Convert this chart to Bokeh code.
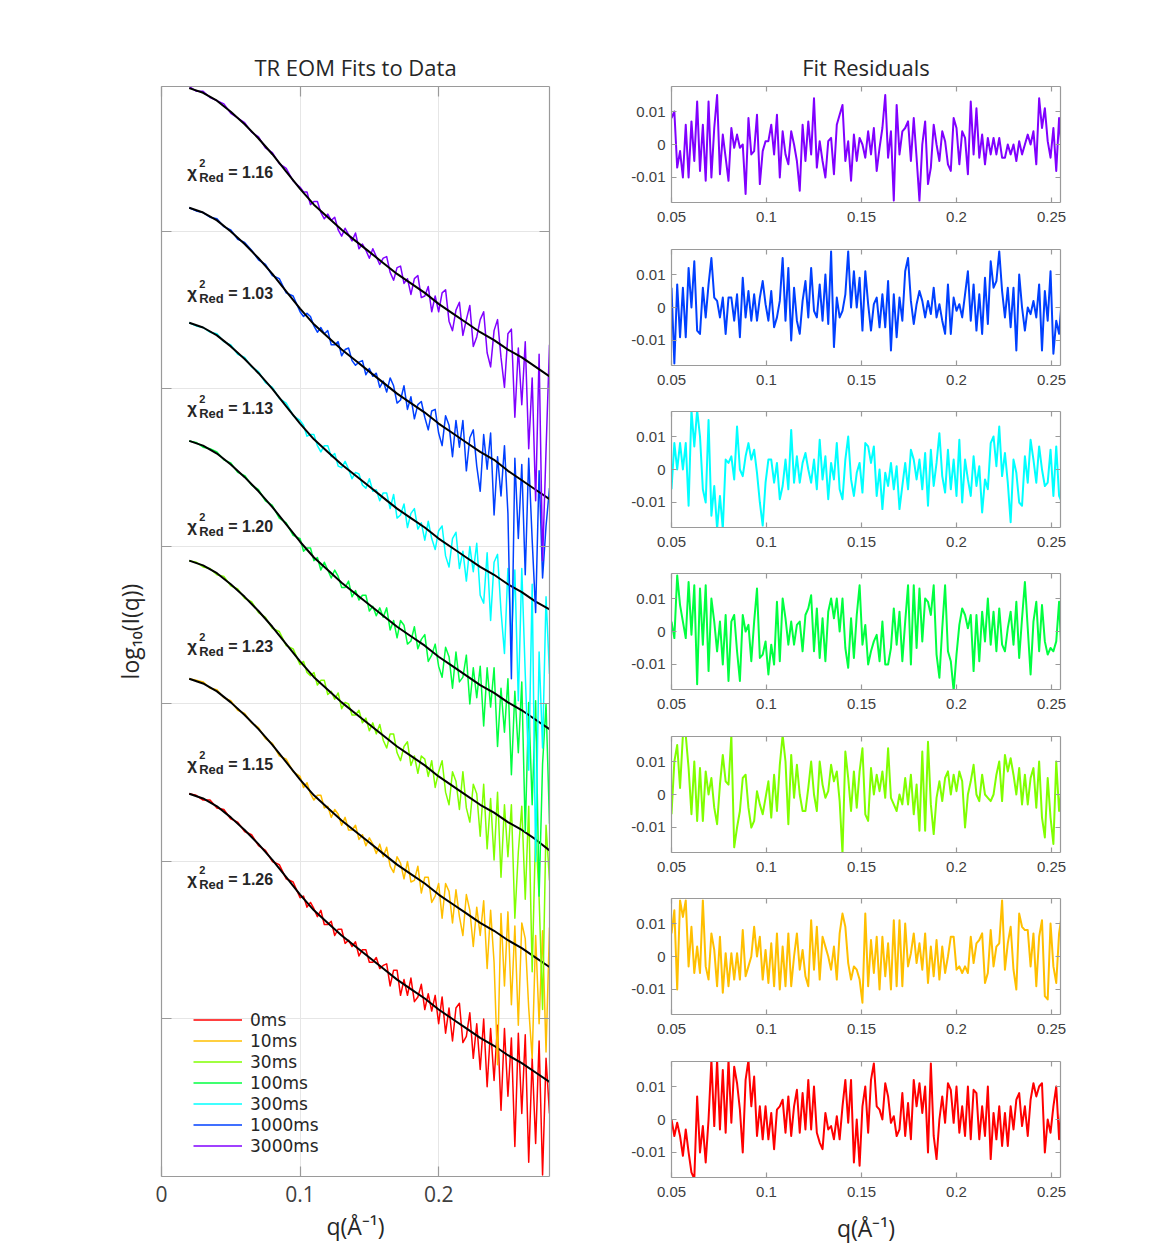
import numpy as np
from bokeh.plotting import figure
from bokeh.models import (ColumnDataSource, Range1d, FixedTicker, LinearAxis, Legend,
                          LegendItem, CustomJSTickFormatter)
from bokeh.layouts import row, column
from bokeh.core.properties import value
from bokeh.embed import file_html
from bokeh.resources import INLINE

# ---------------- data ----------------
series_labels = ["0ms", "10ms", "30ms", "100ms", "300ms", "1000ms", "3000ms"]
series_colors = ["#ff0000", "#ffbf00", "#80ff00", "#00ff40", "#00ffff", "#0040ff", "#8000ff"]
chi_red = [1.26, 1.15, 1.23, 1.20, 1.13, 1.03, 1.16]

left_x_ticks = [0, 0.1, 0.2]
left_x_labels = ["0", "0.1", "0.2"]
left_y_ticks = [1, 2, 3, 4, 5, 6]
res_x_ticks = [0.05, 0.1, 0.15, 0.2, 0.25]
res_x_labels = ["0.05", "0.1", "0.15", "0.2", "0.25"]
res_y_ticks = [-10, 0, 10]            # residuals are in units of 1e-3
res_y_labels = ["-0.01", "0", "0.01"]

# q sampling grids (measurement grid of the curves)
q_fit = [0.02, 0.03, 0.04, 0.05, 0.06, 0.07, 0.08, 0.09, 0.10, 0.11, 0.12, 0.13, 0.14,
         0.15, 0.16, 0.17, 0.18, 0.19, 0.20, 0.21, 0.22, 0.23, 0.24, 0.25, 0.26, 0.27, 0.28]
q_data = list(np.round(np.r_[0.02 + 0.005 * np.arange(17), 0.1025 + 0.0025 * np.arange(72)], 4))
q_res = list(np.round(0.05 + 0.0015 * np.arange(138), 4))

fit_0ms = [2.43, 2.40, 2.35, 2.28, 2.20, 2.11, 2.01, 1.90, 1.79, 1.69, 1.61, 1.53, 1.46, 1.39, 1.32, 1.25, 1.19, 1.13, 1.06, 1.00, 0.94, 0.88, 0.83, 0.77, 0.72, 0.66, 0.60]
fit_10ms = [3.16, 3.13, 3.08, 3.01, 2.93, 2.84, 2.74, 2.63, 2.52, 2.42, 2.34, 2.26, 2.19, 2.12, 2.05, 1.98, 1.92, 1.86, 1.79, 1.73, 1.67, 1.61, 1.56, 1.50, 1.45, 1.39, 1.33]
fit_30ms = [3.91, 3.88, 3.83, 3.76, 3.68, 3.59, 3.49, 3.38, 3.27, 3.17, 3.09, 3.01, 2.94, 2.87, 2.80, 2.73, 2.67, 2.61, 2.54, 2.48, 2.42, 2.36, 2.31, 2.25, 2.20, 2.14, 2.07]
fit_100ms = [4.67, 4.64, 4.59, 4.52, 4.44, 4.35, 4.25, 4.14, 4.03, 3.93, 3.85, 3.77, 3.70, 3.63, 3.56, 3.49, 3.43, 3.37, 3.30, 3.24, 3.18, 3.12, 3.07, 3.01, 2.96, 2.90, 2.84]
fit_300ms = [5.42, 5.39, 5.34, 5.27, 5.19, 5.10, 5.00, 4.89, 4.78, 4.68, 4.60, 4.52, 4.45, 4.38, 4.31, 4.24, 4.18, 4.12, 4.05, 3.99, 3.93, 3.87, 3.82, 3.76, 3.71, 3.65, 3.60]
fit_1000ms = [6.15, 6.12, 6.07, 6.00, 5.92, 5.83, 5.73, 5.62, 5.51, 5.41, 5.33, 5.25, 5.18, 5.11, 5.04, 4.97, 4.91, 4.85, 4.78, 4.72, 4.66, 4.60, 4.55, 4.48, 4.42, 4.36, 4.30]
fit_3000ms = [6.91, 6.88, 6.83, 6.76, 6.68, 6.59, 6.49, 6.38, 6.27, 6.17, 6.09, 6.01, 5.94, 5.87, 5.80, 5.73, 5.67, 5.61, 5.54, 5.48, 5.42, 5.36, 5.31, 5.25, 5.20, 5.14, 5.08]

data_0ms = [2.43, 2.42, 2.39, 2.39, 2.34, 2.33, 2.27, 2.25, 2.19, 2.17, 2.10, 2.07, 2.00, 1.98, 1.89, 1.87, 1.77,
            1.78, 1.71, 1.74, 1.70, 1.65, 1.69, 1.60, 1.60, 1.62, 1.53, 1.57, 1.57, 1.48, 1.50, 1.46, 1.49, 1.40, 1.44, 1.44, 1.36, 1.36, 1.39, 1.32, 1.34,
            1.35, 1.21, 1.31, 1.31, 1.15, 1.25, 1.15, 1.26, 1.11, 1.14, 1.22, 1.06, 1.16, 1.05, 1.15, 0.97,
            1.14, 0.91, 1.07, 0.86, 1.07, 1.10, 0.85, 0.89, 1.04, 0.75, 0.97, 0.68,
            1.00, 0.57, 0.94, 0.61, 0.96, 0.42, 0.94, 0.51,
            0.88, 0.19, 0.91, 0.40, 0.90, 0.09, 0.75, 0.21, 0.86, 0.01, 0.75, 0.40]
data_10ms = [3.16, 3.15, 3.14, 3.10, 3.09, 3.04, 3.02, 2.96, 2.94, 2.88, 2.85, 2.78, 2.75, 2.67, 2.65, 2.57, 2.54,
             2.47, 2.50, 2.43, 2.39, 2.42, 2.42, 2.34, 2.35, 2.28, 2.33, 2.30, 2.23, 2.28, 2.20, 2.20, 2.23, 2.14, 2.17, 2.10, 2.15, 2.11, 2.05, 2.11, 2.03,
             2.09, 1.97, 1.93, 2.03, 1.99, 1.89, 2.00, 1.87, 1.88, 1.97, 1.80, 1.90, 1.90, 1.74, 1.78, 1.86,
             1.64, 1.86, 1.81, 1.61, 1.82, 1.65, 1.53, 1.79, 1.69, 1.46, 1.71, 1.53,
             1.75, 1.32, 1.69, 1.36, 0.71, 1.67, 1.21, 1.68,
             1.09, 1.59, 0.96, 1.61, 1.51, 1.07, 0.75, 1.53, 0.97, 1.56, 0.79, 1.58]
data_30ms = [3.91, 3.90, 3.87, 3.86, 3.82, 3.81, 3.75, 3.73, 3.67, 3.65, 3.58, 3.55, 3.48, 3.46, 3.37, 3.35, 3.25,
             3.27, 3.20, 3.18, 3.20, 3.12, 3.15, 3.15, 3.06, 3.08, 3.03, 3.07, 2.97, 3.01, 3.00, 2.93, 2.93, 2.96, 2.88, 2.91, 2.83, 2.88, 2.81, 2.87, 2.77,
             2.72, 2.81, 2.81, 2.69, 2.64, 2.73, 2.76, 2.61, 2.67, 2.56, 2.67, 2.65, 2.54, 2.64, 2.47, 2.57,
             2.64, 2.44, 2.36, 2.57, 2.51, 2.33, 2.57, 2.34, 2.25, 2.49, 2.43, 2.16,
             2.49, 2.08, 2.40, 2.01, 2.44, 1.90, 2.36, 2.03,
             2.36, 1.64, 2.06, 2.35, 1.76, 2.35, 1.30, 2.20, 1.77, 1.06, 2.23, 1.88]
data_100ms = [4.67, 4.66, 4.63, 4.62, 4.60, 4.55, 4.53, 4.47, 4.45, 4.39, 4.36, 4.29, 4.26, 4.18, 4.15, 4.07, 4.05,
              3.97, 3.99, 3.99, 3.91, 3.93, 3.85, 3.90, 3.85, 3.80, 3.85, 3.81, 3.74, 3.74, 3.78, 3.68, 3.72, 3.66, 3.69, 3.69, 3.59, 3.62, 3.56, 3.61, 3.55,
              3.61, 3.47, 3.53, 3.42, 3.53, 3.50, 3.38, 3.40, 3.49, 3.35, 3.41, 3.44, 3.27, 3.31, 3.38, 3.24,
              3.17, 3.36, 3.30, 3.10, 3.33, 3.14, 3.17, 3.31, 3.00, 3.23, 3.04, 3.24,
              2.86, 3.23, 2.98, 3.23, 2.73, 3.10, 2.82, 3.16,
              2.55, 3.08, 2.69, 3.14, 2.19, 3.01, 2.36, 3.02, 1.78, 2.62, 3.00, 2.24]
data_300ms = [5.42, 5.40, 5.39, 5.36, 5.35, 5.30, 5.28, 5.22, 5.20, 5.14, 5.11, 5.04, 5.01, 4.94, 4.91, 4.83, 4.80,
              4.77, 4.70, 4.71, 4.71, 4.64, 4.60, 4.64, 4.64, 4.57, 4.59, 4.51, 4.50, 4.54, 4.49, 4.43, 4.47, 4.46, 4.39, 4.37, 4.43, 4.35, 4.36, 4.29, 4.34,
              4.34, 4.24, 4.33, 4.18, 4.20, 4.27, 4.12, 4.21, 4.24, 4.11, 4.15, 4.04, 4.16, 4.05, 3.98, 4.10,
              4.13, 3.94, 3.87, 4.05, 4.09, 3.86, 3.97, 3.78, 4.00, 3.84, 4.02, 3.69,
              3.64, 3.96, 3.53, 3.90, 3.95, 3.59, 3.32, 3.86,
              3.40, 3.85, 3.02, 3.86, 3.19, 2.58, 3.76, 2.00, 3.33, 2.72, 3.68, 3.19]
data_1000ms = [6.15, 6.13, 6.12, 6.09, 6.08, 6.03, 6.01, 5.95, 5.93, 5.88, 5.82, 5.79, 5.72, 5.70, 5.61, 5.59, 5.49,
               5.46, 5.48, 5.46, 5.40, 5.36, 5.39, 5.35, 5.37, 5.28, 5.28, 5.30, 5.21, 5.25, 5.26, 5.18, 5.15, 5.17, 5.18, 5.09, 5.13, 5.08, 5.10, 5.01, 5.05,
               4.98, 5.07, 5.02, 4.91, 4.93, 5.02, 4.87, 4.95, 4.81, 4.90, 4.92, 4.82, 4.74, 4.86, 4.87, 4.72,
               4.64, 4.83, 4.77, 4.57, 4.80, 4.63, 4.80, 4.48, 4.69, 4.74, 4.51, 4.35,
               4.71, 4.49, 4.72, 4.20, 4.57, 4.32, 4.64, 4.21,
               3.16, 4.56, 4.05, 4.52, 3.82, 4.56, 4.04, 3.58, 4.48, 3.80, 4.13, 4.37]
data_3000ms = [6.92, 6.89, 6.89, 6.85, 6.83, 6.81, 6.75, 6.72, 6.69, 6.63, 6.60, 6.53, 6.50, 6.43, 6.40, 6.32, 6.28,
               6.25, 6.25, 6.17, 6.19, 6.19, 6.12, 6.08, 6.11, 6.07, 6.09, 6.01, 5.97, 6.02, 5.98, 5.94, 5.99, 5.89, 5.92, 5.88, 5.83, 5.89, 5.84, 5.79, 5.83,
               5.84, 5.74, 5.69, 5.77, 5.78, 5.67, 5.70, 5.60, 5.70, 5.72, 5.58, 5.59, 5.65, 5.49, 5.59, 5.49,
               5.61, 5.63, 5.43, 5.37, 5.50, 5.55, 5.34, 5.44, 5.53, 5.27, 5.33, 5.44,
               5.49, 5.23, 5.14, 5.37, 5.44, 5.20, 5.01, 5.35,
               5.38, 4.82, 5.26, 4.90, 5.30, 4.62, 5.07, 4.29, 5.22, 3.91, 4.61, 5.28]

# residuals in units of 1e-3
resid_0ms = [0, -5, -1, -5, -11, -3, -10, -16, -18, 7,
             -10, -2, -13, 0, 18, -2, 18, -3, 15, -4,
             18, -1, 16, 11, 3, -10, 12, 18, 4, 13,
             -5, 4, -6, 4, -6, 2, -9, 3, 4, 6,
             -4, 7, -5, 4, 9, -4, 8, -3, 12, -3,
             10, -4, -7, -9, 2, -3, -2, -6, 1, -6,
             4, 12, -1, 12, -13, 0, -14, 4, 10, -4,
             12, 17, 4, 3, 0, 11, 7, -1, 1, -5,
             -3, 8, -5, 5, -6, 12, 4, 11, 2, 10,
             -10, 17, -5, -12, 0, 7, -1, 11, 9, -1,
             10, -4, 4, -5, 10, -6, 9, 8, -6, 4,
             -5, 10, -12, 2, -6, 4, -8, 2, -8, 4,
             -3, 6, 8, -2, 4, -5, 6, 11, 7, 10,
             11, -10, 0, -4, 4, 10, -6, 6]
resid_10ms = [7, 14, -10, 17, 12, 17, -3, 9, -5, 3,
              -5, 17, -3, -7, 7, 2, -9, 6, -11, 1,
              -9, 1, -7, 1, -7, 8, -6, -3, 0, 9,
              0, 6, -7, 2, -8, 4, -9, 7, -10, 3,
              -9, 7, -9, 0, 7, -4, 2, -6, -9, 11,
              -4, 9, -7, 6, 3, 0, -4, 3, -7, 7,
              13, 9, -2, -7, -3, -4, -7, -14, 13, -9,
              5, -5, 6, -10, 6, -6, 4, -10, 11, -9,
              11, -9, 10, -3, 1, 7, -2, 4, -4, 7,
              -8, 3, -6, 5, -7, 3, -5, 0, 6, 6,
              -4, -3, -5, -3, -5, 6, -2, 4, 5, 7,
              -8, -5, 8, -3, 3, 4, 17, -4, 4, 9,
              -4, -10, 13, 9, 8, 8, -3, 7, -9, 6,
              11, -12, -13, 10, -3, -8, 7, 13]
resid_30ms = [-6, 10, 15, 2, 18, 18, 8, -6, 10, -8,
              8, -8, 7, 0, 5, -4, -9, 3, 12, 4,
              3, 18, -16, -10, -5, 5, 6, -4, -10, -8,
              1, -3, -6, -1, 4, -7, 6, -5, 9, 18,
              10, -9, 12, -1, 9, 0, -5, -5, 2, 10,
              0, -5, 10, 3, -1, 1, 9, 4, 7, -2,
              -18, 13, 5, -5, 7, -4, 7, 14, -6, -8,
              8, 0, 6, 1, 7, -1, 14, -1, -3, -5,
              0, -3, 5, -3, 6, -6, 3, -11, 13, -11,
              16, -3, -12, -1, 4, -2, 5, 7, 0, 6,
              1, 7, 4, -10, 0, 4, 9, 0, -2, 6,
              0, -1, -2, 0, 6, 10, -2, 12, 7, 11,
              6, 0, 8, -3, 6, -3, 5, 8, -4, 10,
              -7, -13, 5, -7, -15, 10, -5, 3]
resid_100ms = [3, -2, 17, 8, 3, -2, 15, -1, 14, -16,
               13, -4, 14, -12, 10, 3, -6, 3, -10, 5,
               -15, 3, 5, -6, -15, 5, 0, 2, -9, 3,
               13, -8, -7, -3, -13, -4, -10, 9, -9, 10,
               4, -4, 3, -4, 2, 3, -6, 5, 7, 11,
               -6, 7, -8, 4, -9, 6, 10, 4, 10, 0,
               10, -5, -11, 4, -8, 5, 14, -4, 2, -10,
               -6, -3, -1, -9, 3, -10, -10, -5, 7, -4,
               6, -9, 3, 14, -10, 14, -5, 13, -3, 10,
               9, 5, 14, -7, -14, 1, 14, -6, -9, -18,
               -7, 2, 7, 5, 1, 5, -12, 5, -9, 6,
               -3, 10, -4, 6, -6, 7, -4, -6, 1, 6,
               -4, 9, -8, 4, 15, 1, -13, 3, 9, -6,
               8, -3, -7, -5, -6, -3, 9, -10]
resid_300ms = [-6, 8, 0, 8, 0, 8, -11, 18, 7, 18,
               10, -6, -10, 15, -14, -5, -18, -8, -18, 3,
               2, 4, -3, 13, 0, -2, 4, 8, 3, 6,
               -1, -10, -17, -4, 3, 3, -4, 2, -9, -5,
               3, -6, 12, -4, 4, -4, 2, 5, 0, -4,
               3, -6, 9, -3, 4, -9, 2, -3, 8, -6,
               -9, 3, 10, -3, -8, -1, 2, -7, 8, 7,
               2, 7, -8, 0, -12, -1, -5, 2, -6, 1,
               -12, -5, 2, -6, 6, 3, -3, 3, -6, 5,
               -11, 6, -5, 2, 11, -2, -7, 6, -6, 3,
               -8, 9, -10, 3, -3, -8, 4, -5, 1, -13,
               -3, -6, 8, 10, 1, 13, -2, 5, -4, -16,
               3, -1, -10, -11, 4, -4, 9, 3, -4, 7,
               0, -5, -4, 6, -8, 7, -8, -10]
resid_1000ms = [6, -17, 7, -9, 6, -9, 12, 0, 14, -7,
                -8, 6, -3, 7, 15, 3, 2, -3, 3, -8,
                3, 3, -4, 4, -9, 9, -3, 5, -4, 4,
                -4, 3, 8, 1, -4, 5, -6, -3, 2, 15,
                -4, 12, -10, 6, -4, -8, 2, 8, -3, 12,
                -1, -3, 7, -4, 10, -5, 17, -12, 3, -3,
                -1, 4, 17, 0, 11, 0, 9, -7, 11, 1,
                -7, 1, 3, -6, 4, -6, 8, -13, 4, -9,
                3, -4, 11, 15, 2, -5, 1, 5, 2, -3,
                2, -2, 6, -3, 1, -4, -8, 7, -8, 3,
                -1, 1, -3, 4, 11, -4, 7, -7, 4, -8,
                9, -5, 14, 6, 8, 17, 5, -3, 6, -6,
                6, -13, 10, 0, -7, 0, -2, 2, -3, 7,
                -13, 5, -4, 11, -14, -4, -8, 3]
resid_3000ms = [8, 10, -7, -2, -10, 6, -10, 7, -5, 13,
                -8, 6, -11, 13, -10, 5, 15, -9, 3, -4,
                -11, 5, -1, 3, -1, 0, -15, 8, -3, -2,
                9, -12, -2, 1, 1, 6, -3, 9, -10, 4,
                -3, -6, 4, 0, -5, -14, 6, -5, 7, -3,
                14, -7, 1, -5, -10, 1, 2, -9, 6, 9,
                12, -5, 1, -11, 3, -5, 2, 0, -4, 4,
                -3, 5, -8, -1, 5, 15, -4, 4, -17, 12,
                -3, 4, 5, 7, -5, 8, -4, -17, 0, 7,
                -12, -7, 6, 0, -5, 4, 1, -6, -8, 8,
                5, -6, 4, 2, -9, 13, -3, 11, -4, 3,
                -6, 2, -3, 2, -3, 2, -4, -4, 0, -3,
                0, -5, 1, -3, 0, 3, 0, 4, -6, 14,
                5, 11, 1, -4, 5, -8, 8, -3]

fits = [fit_0ms, fit_10ms, fit_30ms, fit_100ms, fit_300ms, fit_1000ms, fit_3000ms]
datas = [data_0ms, data_10ms, data_30ms, data_100ms, data_300ms, data_1000ms, data_3000ms]
resids = [resid_0ms, resid_10ms, resid_30ms, resid_100ms, resid_300ms, resid_1000ms, resid_3000ms]

# ---------------- styling ----------------
FONT = "Open Sans"
TICKFONT = "Liberation Sans"
LEGENDFONT = "DejaVu Sans"
TXT = "#262626"
AX = "#9a9a9a"
EMPTY = CustomJSTickFormatter(code="return ''")


def style_axis(ax, ticks, tick_in, labels=None, font=FONT, size="18px", standoff=6):
    ax.ticker = FixedTicker(ticks=ticks)
    ax.axis_line_color = AX
    ax.axis_line_width = 1.2
    ax.major_tick_line_color = AX
    ax.major_tick_line_width = 1.2
    ax.major_tick_in = tick_in
    ax.major_tick_out = 0
    ax.minor_tick_line_color = None
    if labels is None:
        ax.formatter = EMPTY
        ax.major_label_text_font_size = "0px"
        ax.major_label_standoff = 0
    else:
        ax.major_label_overrides = {t: l for t, l in zip(ticks, labels)}
        ax.major_label_text_font = font
        ax.major_label_text_font_size = size
        ax.major_label_text_color = "#404040"
        ax.major_label_standoff = standoff


def style_title(fig, text):
    fig.title.text = text
    fig.title.align = "center"
    fig.title.text_font = FONT
    fig.title.text_font_size = "22px"
    fig.title.text_font_style = "normal"
    fig.title.text_color = TXT
    fig.title.standoff = 9


def style_label(ax, text, standoff):
    ax.axis_label = text
    ax.axis_label_text_font = FONT
    ax.axis_label_text_font_size = "23px"
    ax.axis_label_text_font_style = "normal"
    ax.axis_label_text_color = TXT
    ax.axis_label_standoff = standoff


# ---------------- left panel ----------------
left = figure(width=600, height=1249, x_range=Range1d(0, 0.28), y_range=Range1d(0, 6.92),
              output_backend="svg", toolbar_location=None,
              min_border_left=161, min_border_right=51, min_border_top=86, min_border_bottom=73)
left.outline_line_color = None
style_title(left, "TR EOM Fits to Data")

lx = left.xaxis[0]
ly = left.yaxis[0]
style_axis(lx, left_x_ticks, 10, left_x_labels, FONT, "21px", 9)
style_label(lx, "q(Å⁻¹)", 5)
style_axis(ly, left_y_ticks, 10)
style_label(ly, "log₁₀(I(q))", 16)

ra = LinearAxis()
style_axis(ra, left_y_ticks, 10)
left.add_layout(ra, "right")
ta = LinearAxis()
style_axis(ta, left_x_ticks, 10)
left.add_layout(ta, "above")

left.xgrid.grid_line_color = "#e6e6e6"
left.ygrid.grid_line_color = "#e6e6e6"
left.xgrid.ticker = FixedTicker(ticks=left_x_ticks)
left.ygrid.ticker = FixedTicker(ticks=left_y_ticks)

data_renderers = []
for i in range(7):
    r = left.line(q_data, datas[i], line_color=series_colors[i], line_width=1.5, line_join="round")
    data_renderers.append(r)
    left.line(q_fit, fits[i], line_color="black", line_width=2, line_join="round")

chi_src = ColumnDataSource(dict(
    x=[q_data[0]] * 7,
    y=[d[0] for d in datas],
    chi=["χ"] * 7,
    sup=["2"] * 7,
    sub=["Red"] * 7,
    val=["= %.2f" % c for c in chi_red],
))
common = dict(source=chi_src, text_color=TXT, text_baseline="middle", text_align="left",
              text_font=value(TICKFONT), text_font_style="bold")
left.text(x="x", y="y", text="chi", x_offset=-2, y_offset=86, text_font_size="17px", **common)
left.text(x="x", y="y", text="sup", x_offset=10, y_offset=76, text_font_size="11px", **common)
left.text(x="x", y="y", text="sub", x_offset=10, y_offset=91, text_font_size="13px", **common)
left.text(x="x", y="y", text="val", x_offset=39, y_offset=86, text_font_size="16px", **common)

legend = Legend(items=[LegendItem(label=series_labels[i], renderers=[data_renderers[i]]) for i in range(7)],
                location=(32, 20), orientation="vertical",
                glyph_width=49, glyph_height=21, label_height=21, spacing=0, padding=0, margin=0,
                label_standoff=8, label_text_font=LEGENDFONT,
                label_text_font_size="17px", label_text_color=TXT,
                border_line_color=None, background_fill_alpha=0)
left.add_layout(legend)

# ---------------- right panels ----------------
heights = [249, 162, 162, 163, 162, 163, 188]
tops = [86, 0, 0, 0, 0, 0, 0]
bottoms = [47, 46, 46, 47, 46, 47, 72]
order = [6, 5, 4, 3, 2, 1, 0]

rights = []
for k, i in enumerate(order):
    f = figure(width=557, height=heights[k], x_range=Range1d(0.05, 0.25474), y_range=Range1d(-17.58, 17.58),
               output_backend="svg", toolbar_location=None,
               min_border_left=71, min_border_right=97, min_border_top=tops[k], min_border_bottom=bottoms[k])
    f.outline_line_color = None
    f.grid.grid_line_color = None
    bx = f.xaxis[0]
    by = f.yaxis[0]
    style_axis(bx, res_x_ticks, 5, res_x_labels, TICKFONT, "15px", 9)
    style_axis(by, res_y_ticks, 5, res_y_labels, TICKFONT, "15px", 6)
    if k == 0:
        style_title(f, "Fit Residuals")
    if k == 6:
        style_label(bx, "q(Å⁻¹)", 12)
    a1 = LinearAxis(); style_axis(a1, res_y_ticks, 5); f.add_layout(a1, "right")
    a2 = LinearAxis(); style_axis(a2, res_x_ticks, 5); f.add_layout(a2, "above")
    f.line(q_res, resids[i], line_color=series_colors[i], line_width=2, line_join="round")
    rights.append(f)

layout = row(left, column(*rights, spacing=0), spacing=0)
open("out.html", "w").write(file_html(layout, INLINE))
